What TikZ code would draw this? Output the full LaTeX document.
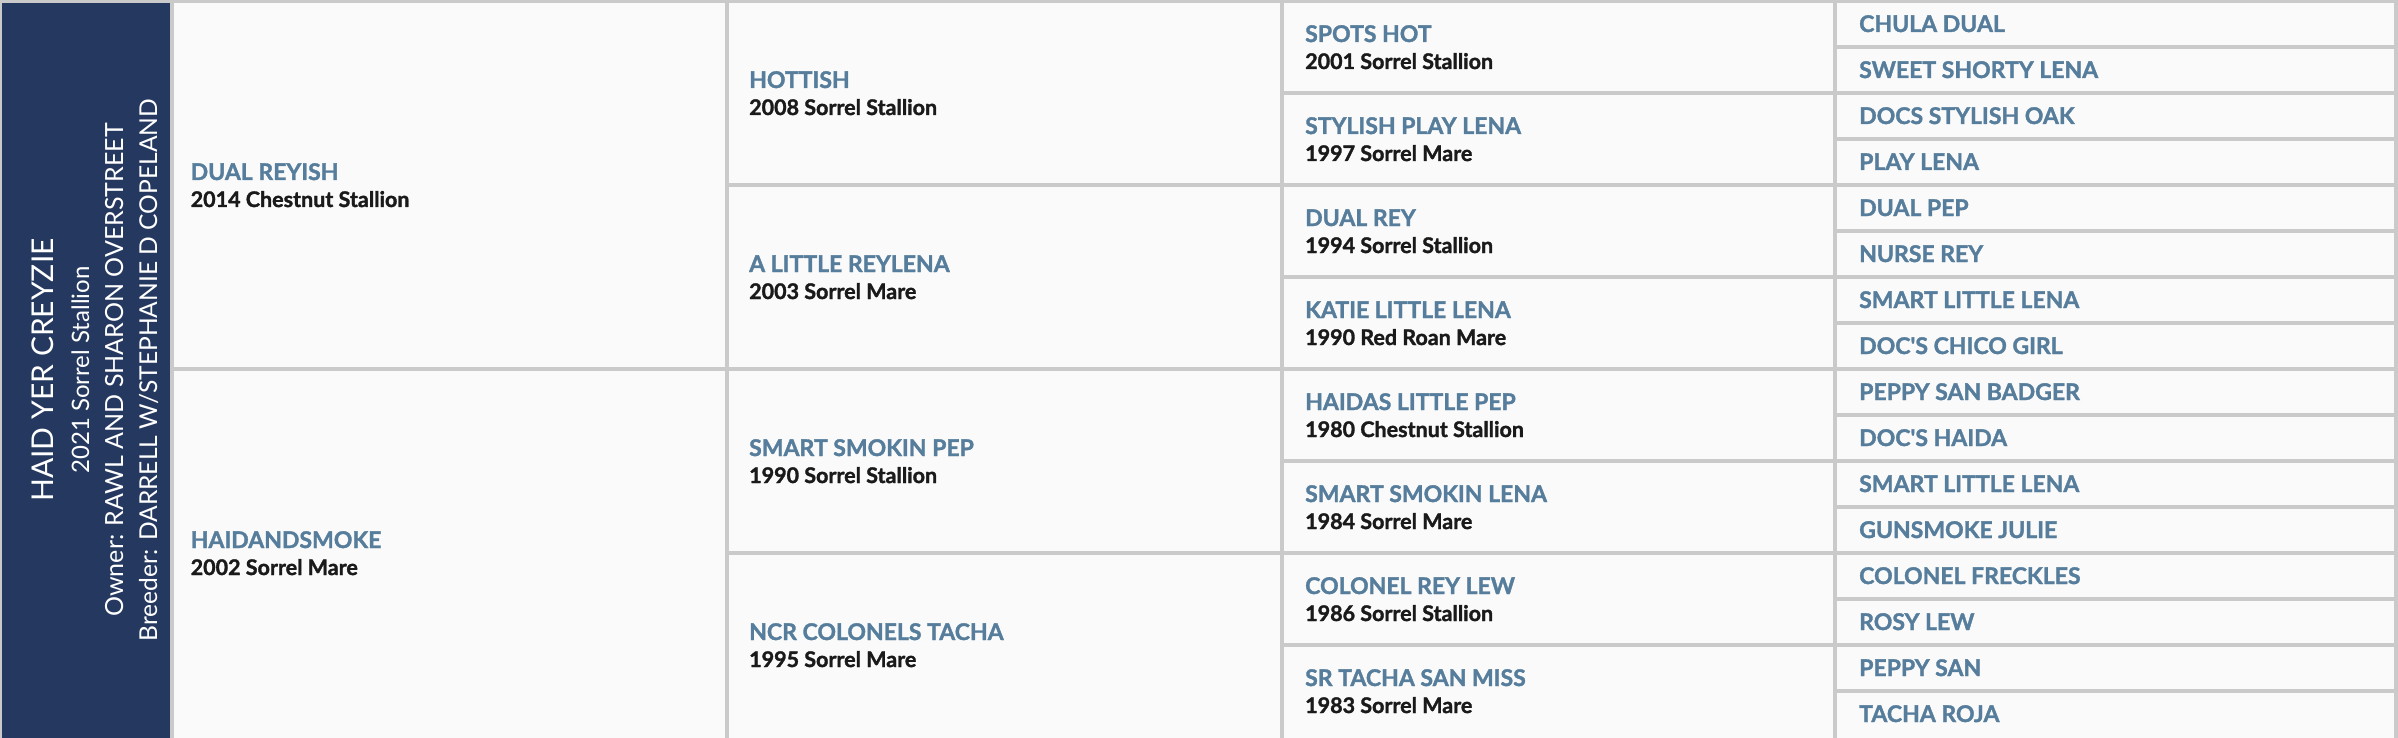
\documentclass[tikz,border=0pt]{standalone}
\usepackage{fontspec}
\setmainfont{Lato}
\newfontfamily\panelfont{Lato}
\newfontfamily\cellfont{Lato}[BoldFeatures={FakeBold=1.5}]
\definecolor{pnavy}{RGB}{37,57,96}
\definecolor{gridgray}{RGB}{202,202,202}
\definecolor{cellfill}{RGB}{250,250,250}
\definecolor{nameblue}{RGB}{86,125,155}
\definecolor{detailblack}{RGB}{26,26,26}
\tikzset{
  namestyle/.style={anchor=base west, inner sep=0pt, text=nameblue, font=\cellfont\bfseries\fontsize{23}{27}\selectfont},
  detailstyle/.style={anchor=base west, inner sep=0pt, text=detailblack, font=\cellfont\bfseries\fontsize{21.5}{26}\selectfont},
  cellstyle/.style={fill=cellfill, draw=none},
  paneltext/.style={rotate=90, anchor=base, inner sep=0pt, text=white},
}
\begin{document}
\begin{tikzpicture}[x=1pt,y=-1pt]
\fill[gridgray] (0,0) rectangle (2398,738);
\useasboundingbox (0,0) rectangle (2398,738);
% subject panel
\fill[pnavy] (2,3) rectangle (170,738);
\node[paneltext, font=\panelfont\fontsize{30}{34}\selectfont] (subj) at (53,370) {HAID YER CREYZIE};
\node[paneltext, font=\panelfont\fontsize{24}{28}\selectfont] (subjinfo) at (89,370) {2021 Sorrel Stallion};
\node[paneltext, font=\panelfont\fontsize{25}{29}\selectfont] (owner) at (123,370) {Owner: RAWL AND SHARON OVERSTREET};
\node[paneltext, font=\panelfont\fontsize{24.6}{29}\selectfont] (breeder) at (157,370) {Breeder: DARRELL W/STEPHANIE D COPELAND};
% generation 1
\foreach \nm/\dt [count=\i from 0] in {DUAL REYISH/2014 Chestnut Stallion, HAIDANDSMOKE/2002 Sorrel Mare}{
  \pgfmathsetmacro\ya{1+368*\i+2}
  \pgfmathsetmacro\yb{1+368*(\i+1)-2+3*(\i==1)}
  \pgfmathsetmacro\yc{1+368*(\i+0.5)}
  \fill[cellstyle] (173.5,\ya) rectangle (725,\yb);
  \node[namestyle] (ga-\i) at (190.5,\yc-5) {\nm};
  \node[detailstyle] (gad-\i) at (190.5,\yc+22) {\dt};
}
% generation 2
\foreach \nm/\dt [count=\i from 0] in {HOTTISH/2008 Sorrel Stallion, A LITTLE REYLENA/2003 Sorrel Mare, SMART SMOKIN PEP/1990 Sorrel Stallion, NCR COLONELS TACHA/1995 Sorrel Mare}{
  \pgfmathsetmacro\ya{1+184*\i+2}
  \pgfmathsetmacro\yb{1+184*(\i+1)-2+3*(\i==3)}
  \pgfmathsetmacro\yc{1+184*(\i+0.5)}
  \fill[cellstyle] (729,\ya) rectangle (1280,\yb);
  \node[namestyle] (gb-\i) at (749,\yc-5) {\nm};
  \node[detailstyle] (gbd-\i) at (749,\yc+22) {\dt};
}
% generation 3
\foreach \nm/\dt [count=\i from 0] in {SPOTS HOT/2001 Sorrel Stallion, STYLISH PLAY LENA/1997 Sorrel Mare, DUAL REY/1994 Sorrel Stallion, KATIE LITTLE LENA/1990 Red Roan Mare, HAIDAS LITTLE PEP/1980 Chestnut Stallion, SMART SMOKIN LENA/1984 Sorrel Mare, COLONEL REY LEW/1986 Sorrel Stallion, SR TACHA SAN MISS/1983 Sorrel Mare}{
  \pgfmathsetmacro\ya{1+92*\i+2}
  \pgfmathsetmacro\yb{1+92*(\i+1)-2+3*(\i==7)}
  \pgfmathsetmacro\yc{1+92*(\i+0.5)}
  \fill[cellstyle] (1283.5,\ya) rectangle (1833,\yb);
  \node[namestyle] (gc-\i) at (1305,\yc-5) {\nm};
  \node[detailstyle] (gcd-\i) at (1305,\yc+22) {\dt};
}
% generation 4
\foreach \nm [count=\i from 0] in {CHULA DUAL, SWEET SHORTY LENA, DOCS STYLISH OAK, PLAY LENA, DUAL PEP, NURSE REY, SMART LITTLE LENA, DOC'S CHICO GIRL, PEPPY SAN BADGER, DOC'S HAIDA, SMART LITTLE LENA, GUNSMOKE JULIE, COLONEL FRECKLES, ROSY LEW, PEPPY SAN, TACHA ROJA}{
  \pgfmathsetmacro\ya{1+46*\i+2}
  \pgfmathsetmacro\yb{1+46*(\i+1)-2+3*(\i==15)}
  \pgfmathsetmacro\yc{1+46*(\i+0.5)}
  \fill[cellstyle] (1837,\ya) rectangle (2394,\yb);
  \node[namestyle] (gd-\i) at (1859,\yc+8) {\nm};
}
\end{tikzpicture}
\end{document}
